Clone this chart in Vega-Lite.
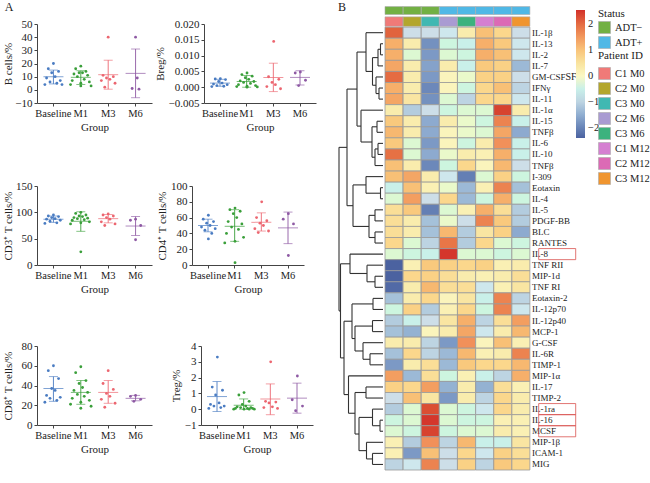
{
  "$schema": "https://vega.github.io/schema/vega-lite/v6.json",
  "background": "white",
  "padding": {"left": 2, "top": 0, "right": 0, "bottom": 0},
  "config": {
    "font": "Liberation Serif",
    "view": {"stroke": null},
    "axis": {"grid": false, "domainColor": "#444", "tickColor": "#444", "labelColor": "#222", "titleColor": "#222", "labelFontSize": 11, "titleFontSize": 11, "titleFontWeight": "normal", "tickSize": 3, "labelPadding": 2, "titlePadding": 3, "labelOverlap": false, "labelBound": false},
    "axisX": {"labelFontSize": 10.5},
    "legend": {"labelFontSize": 10.5, "titleFontSize": 11, "titleFontWeight": "normal", "labelColor": "#222", "titleColor": "#222", "padding": 0},
    "title": {"fontSize": 12, "fontWeight": "normal", "anchor": "start", "color": "#222"}
  },
  "datasets": {
    "cells": [
      {"p":"B","g":"Baseline","v":20,"k":8},{"p":"B","g":"Baseline","v":16,"k":5},{"p":"B","g":"Baseline","v":14,"k":11},{"p":"B","g":"Baseline","v":13,"k":7},{"p":"B","g":"Baseline","v":10,"k":9},{"p":"B","g":"Baseline","v":9,"k":4},{"p":"B","g":"Baseline","v":7,"k":12},{"p":"B","g":"Baseline","v":6,"k":6},{"p":"B","g":"Baseline","v":5,"k":10},{"p":"B","g":"Baseline","v":4,"k":3},{"p":"B","g":"Baseline","v":4,"k":13},
      {"p":"B","g":"M1","v":18,"k":8},{"p":"B","g":"M1","v":16,"k":5},{"p":"B","g":"M1","v":14,"k":11},{"p":"B","g":"M1","v":13,"k":7},{"p":"B","g":"M1","v":13,"k":9},{"p":"B","g":"M1","v":12,"k":4},{"p":"B","g":"M1","v":11,"k":12},{"p":"B","g":"M1","v":10,"k":6},{"p":"B","g":"M1","v":8,"k":10},{"p":"B","g":"M1","v":7,"k":3},{"p":"B","g":"M1","v":6,"k":13},{"p":"B","g":"M1","v":5,"k":8},{"p":"B","g":"M1","v":4,"k":2},{"p":"B","g":"M1","v":3,"k":14},{"p":"B","g":"M1","v":3,"k":8},
      {"p":"B","g":"M3","v":40,"k":8},{"p":"B","g":"M3","v":11,"k":5},{"p":"B","g":"M3","v":10,"k":11},{"p":"B","g":"M3","v":9,"k":7},{"p":"B","g":"M3","v":8,"k":9},{"p":"B","g":"M3","v":7,"k":4},{"p":"B","g":"M3","v":5,"k":12},{"p":"B","g":"M3","v":2,"k":6},
      {"p":"B","g":"M6","v":40,"k":8},{"p":"B","g":"M6","v":9,"k":9},{"p":"B","g":"M6","v":1,"k":6},{"p":"B","g":"M6","v":0.5,"k":10},
      {"p":"Breg","g":"Baseline","v":0.0027,"k":8},{"p":"Breg","g":"Baseline","v":0.0026,"k":5},{"p":"Breg","g":"Baseline","v":0.0024,"k":11},{"p":"Breg","g":"Baseline","v":0.0018,"k":7},{"p":"Breg","g":"Baseline","v":0.0013,"k":9},{"p":"Breg","g":"Baseline","v":0.001,"k":4},{"p":"Breg","g":"Baseline","v":0.0008,"k":12},{"p":"Breg","g":"Baseline","v":0.0005,"k":6},{"p":"Breg","g":"Baseline","v":0.0003,"k":10},{"p":"Breg","g":"Baseline","v":0.0002,"k":3},
      {"p":"Breg","g":"M1","v":0.0045,"k":8},{"p":"Breg","g":"M1","v":0.004,"k":5},{"p":"Breg","g":"M1","v":0.0035,"k":11},{"p":"Breg","g":"M1","v":0.003,"k":7},{"p":"Breg","g":"M1","v":0.0025,"k":9},{"p":"Breg","g":"M1","v":0.002,"k":4},{"p":"Breg","g":"M1","v":0.0018,"k":12},{"p":"Breg","g":"M1","v":0.0015,"k":6},{"p":"Breg","g":"M1","v":0.0012,"k":10},{"p":"Breg","g":"M1","v":0.0008,"k":3},{"p":"Breg","g":"M1","v":0.0005,"k":13},{"p":"Breg","g":"M1","v":0.0003,"k":8},{"p":"Breg","g":"M1","v":0.0002,"k":2},{"p":"Breg","g":"M1","v":0.0001,"k":14},{"p":"Breg","g":"M1","v":0,"k":8},
      {"p":"Breg","g":"M3","v":0.0145,"k":8},{"p":"Breg","g":"M3","v":0.0033,"k":5},{"p":"Breg","g":"M3","v":0.0025,"k":11},{"p":"Breg","g":"M3","v":0.0015,"k":7},{"p":"Breg","g":"M3","v":0.0008,"k":9},{"p":"Breg","g":"M3","v":0.0002,"k":4},{"p":"Breg","g":"M3","v":-0.0005,"k":12},
      {"p":"Breg","g":"M6","v":0.0048,"k":8},{"p":"Breg","g":"M6","v":0.0045,"k":5},{"p":"Breg","g":"M6","v":0.0022,"k":11},{"p":"Breg","g":"M6","v":0.0005,"k":7},
      {"p":"CD3","g":"Baseline","v":95,"k":8},{"p":"CD3","g":"Baseline","v":93,"k":5},{"p":"CD3","g":"Baseline","v":92,"k":11},{"p":"CD3","g":"Baseline","v":90,"k":7},{"p":"CD3","g":"Baseline","v":88,"k":9},{"p":"CD3","g":"Baseline","v":87,"k":4},{"p":"CD3","g":"Baseline","v":85,"k":12},{"p":"CD3","g":"Baseline","v":83,"k":6},{"p":"CD3","g":"Baseline","v":80,"k":10},{"p":"CD3","g":"Baseline","v":79,"k":3},
      {"p":"CD3","g":"M1","v":100,"k":8},{"p":"CD3","g":"M1","v":98,"k":5},{"p":"CD3","g":"M1","v":95,"k":11},{"p":"CD3","g":"M1","v":93,"k":7},{"p":"CD3","g":"M1","v":92,"k":9},{"p":"CD3","g":"M1","v":90,"k":4},{"p":"CD3","g":"M1","v":89,"k":12},{"p":"CD3","g":"M1","v":88,"k":6},{"p":"CD3","g":"M1","v":86,"k":10},{"p":"CD3","g":"M1","v":85,"k":3},{"p":"CD3","g":"M1","v":82,"k":13},{"p":"CD3","g":"M1","v":80,"k":8},{"p":"CD3","g":"M1","v":78,"k":2},{"p":"CD3","g":"M1","v":25,"k":8},
      {"p":"CD3","g":"M3","v":97,"k":8},{"p":"CD3","g":"M3","v":95,"k":5},{"p":"CD3","g":"M3","v":93,"k":11},{"p":"CD3","g":"M3","v":90,"k":7},{"p":"CD3","g":"M3","v":87,"k":9},{"p":"CD3","g":"M3","v":82,"k":4},{"p":"CD3","g":"M3","v":78,"k":12},{"p":"CD3","g":"M3","v":75,"k":6},
      {"p":"CD3","g":"M6","v":87,"k":8},{"p":"CD3","g":"M6","v":85,"k":5},{"p":"CD3","g":"M6","v":75,"k":11},{"p":"CD3","g":"M6","v":48,"k":8},
      {"p":"CD4","g":"Baseline","v":63,"k":8},{"p":"CD4","g":"Baseline","v":58,"k":5},{"p":"CD4","g":"Baseline","v":55,"k":11},{"p":"CD4","g":"Baseline","v":53,"k":7},{"p":"CD4","g":"Baseline","v":50,"k":9},{"p":"CD4","g":"Baseline","v":48,"k":4},{"p":"CD4","g":"Baseline","v":46,"k":12},{"p":"CD4","g":"Baseline","v":44,"k":6},{"p":"CD4","g":"Baseline","v":40,"k":10},{"p":"CD4","g":"Baseline","v":33,"k":8},
      {"p":"CD4","g":"M1","v":72,"k":8},{"p":"CD4","g":"M1","v":70,"k":5},{"p":"CD4","g":"M1","v":68,"k":11},{"p":"CD4","g":"M1","v":65,"k":7},{"p":"CD4","g":"M1","v":60,"k":9},{"p":"CD4","g":"M1","v":55,"k":4},{"p":"CD4","g":"M1","v":52,"k":12},{"p":"CD4","g":"M1","v":48,"k":6},{"p":"CD4","g":"M1","v":45,"k":10},{"p":"CD4","g":"M1","v":40,"k":3},{"p":"CD4","g":"M1","v":35,"k":13},{"p":"CD4","g":"M1","v":30,"k":8},{"p":"CD4","g":"M1","v":28,"k":2},{"p":"CD4","g":"M1","v":3,"k":8},
      {"p":"CD4","g":"M3","v":80,"k":8},{"p":"CD4","g":"M3","v":60,"k":5},{"p":"CD4","g":"M3","v":56,"k":11},{"p":"CD4","g":"M3","v":53,"k":7},{"p":"CD4","g":"M3","v":50,"k":9},{"p":"CD4","g":"M3","v":46,"k":4},{"p":"CD4","g":"M3","v":43,"k":12},{"p":"CD4","g":"M3","v":41,"k":6},
      {"p":"CD4","g":"M6","v":65,"k":8},{"p":"CD4","g":"M6","v":58,"k":5},{"p":"CD4","g":"M6","v":52,"k":11},{"p":"CD4","g":"M6","v":12,"k":8},
      {"p":"CD8","g":"Baseline","v":60,"k":8},{"p":"CD8","g":"Baseline","v":55,"k":5},{"p":"CD8","g":"Baseline","v":47,"k":11},{"p":"CD8","g":"Baseline","v":37,"k":7},{"p":"CD8","g":"Baseline","v":35,"k":9},{"p":"CD8","g":"Baseline","v":30,"k":4},{"p":"CD8","g":"Baseline","v":28,"k":12},{"p":"CD8","g":"Baseline","v":27,"k":6},{"p":"CD8","g":"Baseline","v":25,"k":10},{"p":"CD8","g":"Baseline","v":23,"k":3},
      {"p":"CD8","g":"M1","v":59,"k":8},{"p":"CD8","g":"M1","v":53,"k":5},{"p":"CD8","g":"M1","v":45,"k":11},{"p":"CD8","g":"M1","v":42,"k":7},{"p":"CD8","g":"M1","v":38,"k":9},{"p":"CD8","g":"M1","v":35,"k":4},{"p":"CD8","g":"M1","v":33,"k":12},{"p":"CD8","g":"M1","v":31,"k":6},{"p":"CD8","g":"M1","v":29,"k":10},{"p":"CD8","g":"M1","v":27,"k":3},{"p":"CD8","g":"M1","v":25,"k":13},{"p":"CD8","g":"M1","v":23,"k":8},{"p":"CD8","g":"M1","v":21,"k":2},{"p":"CD8","g":"M1","v":19,"k":14},{"p":"CD8","g":"M1","v":17,"k":8},
      {"p":"CD8","g":"M3","v":55,"k":8},{"p":"CD8","g":"M3","v":42,"k":5},{"p":"CD8","g":"M3","v":36,"k":11},{"p":"CD8","g":"M3","v":32,"k":7},{"p":"CD8","g":"M3","v":29,"k":9},{"p":"CD8","g":"M3","v":26,"k":4},{"p":"CD8","g":"M3","v":22,"k":12},{"p":"CD8","g":"M3","v":18,"k":6},
      {"p":"CD8","g":"M6","v":30,"k":8},{"p":"CD8","g":"M6","v":29,"k":5},{"p":"CD8","g":"M6","v":26,"k":11},{"p":"CD8","g":"M6","v":24,"k":7},
      {"p":"Treg","g":"Baseline","v":3.3,"k":8},{"p":"Treg","g":"Baseline","v":1.4,"k":5},{"p":"Treg","g":"Baseline","v":1.2,"k":11},{"p":"Treg","g":"Baseline","v":0.9,"k":7},{"p":"Treg","g":"Baseline","v":0.4,"k":9},{"p":"Treg","g":"Baseline","v":0.3,"k":4},{"p":"Treg","g":"Baseline","v":0.2,"k":12},{"p":"Treg","g":"Baseline","v":0.2,"k":6},{"p":"Treg","g":"Baseline","v":0.1,"k":10},{"p":"Treg","g":"Baseline","v":0.05,"k":3},
      {"p":"Treg","g":"M1","v":1.05,"k":8},{"p":"Treg","g":"M1","v":0.9,"k":5},{"p":"Treg","g":"M1","v":0.5,"k":11},{"p":"Treg","g":"M1","v":0.3,"k":7},{"p":"Treg","g":"M1","v":0.2,"k":9},{"p":"Treg","g":"M1","v":0.15,"k":4},{"p":"Treg","g":"M1","v":0.1,"k":12},{"p":"Treg","g":"M1","v":0.1,"k":6},{"p":"Treg","g":"M1","v":0.05,"k":10},{"p":"Treg","g":"M1","v":0.05,"k":3},{"p":"Treg","g":"M1","v":0.05,"k":13},{"p":"Treg","g":"M1","v":0,"k":8},{"p":"Treg","g":"M1","v":0,"k":2},{"p":"Treg","g":"M1","v":0,"k":14},{"p":"Treg","g":"M1","v":0,"k":11},
      {"p":"Treg","g":"M3","v":3.0,"k":8},{"p":"Treg","g":"M3","v":0.5,"k":5},{"p":"Treg","g":"M3","v":0.45,"k":11},{"p":"Treg","g":"M3","v":0.4,"k":7},{"p":"Treg","g":"M3","v":0.15,"k":9},{"p":"Treg","g":"M3","v":0.1,"k":4},{"p":"Treg","g":"M3","v":0.05,"k":12},
      {"p":"Treg","g":"M6","v":2.1,"k":8},{"p":"Treg","g":"M6","v":0.6,"k":5},{"p":"Treg","g":"M6","v":0.2,"k":11},{"p":"Treg","g":"M6","v":-0.1,"k":7}
    ],
    "stats": [
      {"p":"B","g":"Baseline","m":10,"lo":4.5,"hi":15},{"p":"B","g":"M1","m":9.5,"lo":4,"hi":14.5},{"p":"B","g":"M3","m":11.5,"lo":0.5,"hi":22.5},{"p":"B","g":"M6","m":12.5,"lo":-6,"hi":31},
      {"p":"Breg","g":"Baseline","m":0.0013,"lo":0.0003,"hi":0.0025},{"p":"Breg","g":"M1","m":0.0018,"lo":0,"hi":0.0037},{"p":"Breg","g":"M3","m":0.0031,"lo":-0.0014,"hi":0.0076},{"p":"Breg","g":"M6","m":0.0031,"lo":0.0007,"hi":0.0052},
      {"p":"CD3","g":"Baseline","m":87,"lo":81,"hi":93},{"p":"CD3","g":"M1","m":83,"lo":64,"hi":101},{"p":"CD3","g":"M3","m":88,"lo":80,"hi":96},{"p":"CD3","g":"M6","m":74,"lo":56,"hi":92},
      {"p":"CD4","g":"Baseline","m":50,"lo":42,"hi":58},{"p":"CD4","g":"M1","m":49,"lo":30,"hi":70},{"p":"CD4","g":"M3","m":54,"lo":43,"hi":66},{"p":"CD4","g":"M6","m":47,"lo":27,"hi":67},
      {"p":"CD8","g":"Baseline","m":37,"lo":24,"hi":49},{"p":"CD8","g":"M1","m":33,"lo":21,"hi":45},{"p":"CD8","g":"M3","m":33,"lo":22,"hi":45},{"p":"CD8","g":"M6","m":27,"lo":24.5,"hi":30},
      {"p":"Treg","g":"Baseline","m":0.8,"lo":-0.15,"hi":1.75},{"p":"Treg","g":"M1","m":0.25,"lo":0,"hi":0.65},{"p":"Treg","g":"M3","m":0.65,"lo":-0.35,"hi":1.6},{"p":"Treg","g":"M6","m":0.7,"lo":-0.25,"hi":1.65}
    ],
    "tree": [
      {"h":2.5,"ha":0,"ya":2,"hb":0,"yb":3},
      {"h":5,"ha":2.5,"ya":2.5,"hb":0,"yb":4},
      {"h":4,"ha":0,"ya":6,"hb":0,"yb":7},
      {"h":7,"ha":0,"ya":5,"hb":4,"yb":6.5},
      {"h":10.5,"ha":5,"ya":3.25,"hb":7,"yb":5.75},
      {"h":17,"ha":0,"ya":1,"hb":10.5,"yb":4.5},
      {"h":6,"ha":0,"ya":9,"hb":0,"yb":10},
      {"h":5,"ha":0,"ya":11,"hb":0,"yb":12},
      {"h":8,"ha":5,"ya":11.5,"hb":0,"yb":13},
      {"h":11,"ha":6,"ya":9.5,"hb":8,"yb":12.25},
      {"h":22,"ha":0,"ya":8,"hb":11,"yb":10.875},
      {"h":26,"ha":17,"ya":2.75,"hb":22,"yb":9.4375},
      {"h":2.5,"ha":0,"ya":15,"hb":0,"yb":16},
      {"h":17,"ha":0,"ya":14,"hb":2.5,"yb":15.5},
      {"h":8,"ha":0,"ya":17,"hb":0,"yb":18},
      {"h":8,"ha":0,"ya":19,"hb":0,"yb":20},
      {"h":14,"ha":8,"ya":17.5,"hb":8,"yb":19.5},
      {"h":30,"ha":17,"ya":14.75,"hb":14,"yb":18.5},
      {"h":36,"ha":26,"ya":6.09375,"hb":30,"yb":16.625},
      {"h":8,"ha":0,"ya":23,"hb":0,"yb":24},
      {"h":16,"ha":0,"ya":22,"hb":8,"yb":23.5},
      {"h":33,"ha":0,"ya":21,"hb":16,"yb":22.75},
      {"h":10,"ha":0,"ya":25,"hb":0,"yb":26},
      {"h":10.5,"ha":0,"ya":27,"hb":0,"yb":28},
      {"h":13,"ha":0,"ya":30,"hb":0,"yb":31},
      {"h":20,"ha":0,"ya":29,"hb":13,"yb":30.5},
      {"h":28,"ha":10.5,"ya":27.5,"hb":20,"yb":29.75},
      {"h":31,"ha":10,"ya":25.5,"hb":28,"yb":28.625},
      {"h":17,"ha":0,"ya":33,"hb":0,"yb":34},
      {"h":3,"ha":0,"ya":36,"hb":0,"yb":37},
      {"h":10.5,"ha":0,"ya":35,"hb":3,"yb":36.5},
      {"h":10.5,"ha":0,"ya":39,"hb":0,"yb":40},
      {"h":16.5,"ha":0,"ya":38,"hb":10.5,"yb":39.5},
      {"h":24,"ha":10.5,"ya":35.75,"hb":16.5,"yb":38.75},
      {"h":28,"ha":17,"ya":33.5,"hb":24,"yb":37.25},
      {"h":34.5,"ha":0,"ya":32,"hb":28,"yb":35.375},
      {"h":39,"ha":31,"ya":27.0625,"hb":34.5,"yb":33.6875},
      {"h":42.5,"ha":33,"ya":21.875,"hb":39,"yb":30.375},
      {"h":44,"ha":36,"ya":11.359375,"hb":42.5,"yb":26.125}
    ],
    "annot": [
      {"c":1,"s":"ADT−","id":"C1 M0"},{"c":2,"s":"ADT−","id":"C2 M0"},{"c":3,"s":"ADT−","id":"C3 M0"},{"c":4,"s":"ADT+","id":"C2 M6"},
      {"c":5,"s":"ADT+","id":"C3 M6"},{"c":6,"s":"ADT+","id":"C1 M12"},{"c":7,"s":"ADT+","id":"C2 M12"},{"c":8,"s":"ADT+","id":"C3 M12"}
    ],
    "labels": [
      {"r":1,"name":"IL-1β","box":false},{"r":2,"name":"IL-13","box":false},{"r":3,"name":"IL-2","box":false},{"r":4,"name":"IL-7","box":false},
      {"r":5,"name":"GM-CSF","box":false},{"r":6,"name":"IFNγ","box":false},{"r":7,"name":"IL-11","box":false},{"r":8,"name":"IL-1α","box":false},
      {"r":9,"name":"IL-15","box":false},{"r":10,"name":"TNFβ","box":false},{"r":11,"name":"IL-6","box":false},{"r":12,"name":"IL-10","box":false},
      {"r":13,"name":"TNFβ","box":false},{"r":14,"name":"I-309","box":false},{"r":15,"name":"Eotaxin","box":false},{"r":16,"name":"IL-4","box":false},
      {"r":17,"name":"IL-5","box":false},{"r":18,"name":"PDGF-BB","box":false},{"r":19,"name":"BLC","box":false},{"r":20,"name":"RANTES","box":false},
      {"r":21,"name":"IL-8","box":true},{"r":22,"name":"TNF RII","box":false},{"r":23,"name":"MIP-1d","box":false},{"r":24,"name":"TNF RI","box":false},
      {"r":25,"name":"Eotaxin-2","box":false},{"r":26,"name":"IL-12p70","box":false},{"r":27,"name":"IL-12p40","box":false},{"r":28,"name":"MCP-1","box":false},
      {"r":29,"name":"G-CSF","box":false},{"r":30,"name":"IL-6R","box":false},{"r":31,"name":"TIMP-1","box":false},{"r":32,"name":"MIP-1α","box":false},
      {"r":33,"name":"IL-17","box":false},{"r":34,"name":"TIMP-2","box":false},{"r":35,"name":"IL-1ra","box":true},{"r":36,"name":"IL-16","box":true},
      {"r":37,"name":"MCSF","box":true},{"r":38,"name":"MIP-1β","box":false},{"r":39,"name":"ICAM-1","box":false},{"r":40,"name":"MIG","box":false}
    ],
    "heat": [
      {"r":1,"c":1,"z":2.1},{"r":1,"c":2,"z":-0.85},{"r":1,"c":3,"z":-0.85},{"r":1,"c":4,"z":-0.7},{"r":1,"c":5,"z":0.3},{"r":1,"c":6,"z":1.05},{"r":1,"c":7,"z":0.75},{"r":1,"c":8,"z":-0.85},
      {"r":2,"c":1,"z":1.25},{"r":2,"c":2,"z":0.3},{"r":2,"c":3,"z":-1.85},{"r":2,"c":4,"z":-0.35},{"r":2,"c":5,"z":-0.5},{"r":2,"c":6,"z":1.25},{"r":2,"c":7,"z":0.95},{"r":2,"c":8,"z":-0.7},
      {"r":3,"c":1,"z":1.25},{"r":3,"c":2,"z":-0.2},{"r":3,"c":3,"z":-1.75},{"r":3,"c":4,"z":-0.2},{"r":3,"c":5,"z":-0.35},{"r":3,"c":6,"z":1.25},{"r":3,"c":7,"z":1.05},{"r":3,"c":8,"z":-0.7},
      {"r":4,"c":1,"z":1.35},{"r":4,"c":2,"z":0.3},{"r":4,"c":3,"z":-1.65},{"r":4,"c":4,"z":0.3},{"r":4,"c":5,"z":-0.5},{"r":4,"c":6,"z":0.95},{"r":4,"c":7,"z":0.85},{"r":4,"c":8,"z":-1.35},
      {"r":5,"c":1,"z":2.0},{"r":5,"c":2,"z":0.3},{"r":5,"c":3,"z":-1.75},{"r":5,"c":4,"z":0.1},{"r":5,"c":5,"z":-0.1},{"r":5,"c":6,"z":0.85},{"r":5,"c":7,"z":0.85},{"r":5,"c":8,"z":-0.85},
      {"r":6,"c":1,"z":1.25},{"r":6,"c":2,"z":0.3},{"r":6,"c":3,"z":-1.95},{"r":6,"c":4,"z":0.1},{"r":6,"c":5,"z":-0.35},{"r":6,"c":6,"z":0.75},{"r":6,"c":7,"z":1.05},{"r":6,"c":8,"z":-1.0},
      {"r":7,"c":1,"z":1.35},{"r":7,"c":2,"z":0.45},{"r":7,"c":3,"z":-1.85},{"r":7,"c":4,"z":-0.2},{"r":7,"c":5,"z":-1.0},{"r":7,"c":6,"z":0.75},{"r":7,"c":7,"z":0.75},{"r":7,"c":8,"z":-0.7},
      {"r":8,"c":1,"z":0.3},{"r":8,"c":2,"z":-1.1},{"r":8,"c":3,"z":-0.85},{"r":8,"c":4,"z":-0.35},{"r":8,"c":5,"z":-0.2},{"r":8,"c":6,"z":-0.2},{"r":8,"c":7,"z":2.4},{"r":8,"c":8,"z":0.3},
      {"r":9,"c":1,"z":0.95},{"r":9,"c":2,"z":0.3},{"r":9,"c":3,"z":-1.55},{"r":9,"c":4,"z":0.3},{"r":9,"c":5,"z":-0.1},{"r":9,"c":6,"z":-0.35},{"r":9,"c":7,"z":1.75},{"r":9,"c":8,"z":-0.5},
      {"r":10,"c":1,"z":1.15},{"r":10,"c":2,"z":0.3},{"r":10,"c":3,"z":-1.55},{"r":10,"c":4,"z":0.1},{"r":10,"c":5,"z":-0.1},{"r":10,"c":6,"z":-0.2},{"r":10,"c":7,"z":1.35},{"r":10,"c":8,"z":-1.55},
      {"r":11,"c":1,"z":0.95},{"r":11,"c":2,"z":-0.2},{"r":11,"c":3,"z":-1.75},{"r":11,"c":4,"z":0.1},{"r":11,"c":5,"z":-0.35},{"r":11,"c":6,"z":0.3},{"r":11,"c":7,"z":1.6},{"r":11,"c":8,"z":-0.5},
      {"r":12,"c":1,"z":1.95},{"r":12,"c":2,"z":-0.2},{"r":12,"c":3,"z":-1.55},{"r":12,"c":4,"z":-0.1},{"r":12,"c":5,"z":0.3},{"r":12,"c":6,"z":0.2},{"r":12,"c":7,"z":1.25},{"r":12,"c":8,"z":-0.5},
      {"r":13,"c":1,"z":1.05},{"r":13,"c":2,"z":0.3},{"r":13,"c":3,"z":-1.95},{"r":13,"c":4,"z":-0.35},{"r":13,"c":5,"z":0.75},{"r":13,"c":6,"z":0.1},{"r":13,"c":7,"z":1.15},{"r":13,"c":8,"z":-0.85},
      {"r":14,"c":1,"z":1.05},{"r":14,"c":2,"z":1.35},{"r":14,"c":3,"z":0.3},{"r":14,"c":4,"z":-0.7},{"r":14,"c":5,"z":-2.05},{"r":14,"c":6,"z":-0.2},{"r":14,"c":7,"z":0.85},{"r":14,"c":8,"z":-0.35},
      {"r":15,"c":1,"z":-0.5},{"r":15,"c":2,"z":1.05},{"r":15,"c":3,"z":0.2},{"r":15,"c":4,"z":-0.1},{"r":15,"c":5,"z":-1.35},{"r":15,"c":6,"z":0.2},{"r":15,"c":7,"z":1.75},{"r":15,"c":8,"z":-1.25},
      {"r":16,"c":1,"z":-0.2},{"r":16,"c":2,"z":1.45},{"r":16,"c":3,"z":-0.85},{"r":16,"c":4,"z":0.75},{"r":16,"c":5,"z":-1.35},{"r":16,"c":6,"z":-0.35},{"r":16,"c":7,"z":1.25},{"r":16,"c":8,"z":-0.35},
      {"r":17,"c":1,"z":0.6},{"r":17,"c":2,"z":0.95},{"r":17,"c":3,"z":-2.05},{"r":17,"c":4,"z":-0.2},{"r":17,"c":5,"z":0.2},{"r":17,"c":6,"z":1.25},{"r":17,"c":7,"z":0.6},{"r":17,"c":8,"z":-1.1},
      {"r":18,"c":1,"z":0.6},{"r":18,"c":2,"z":0.3},{"r":18,"c":3,"z":-1.25},{"r":18,"c":4,"z":-0.1},{"r":18,"c":5,"z":-0.85},{"r":18,"c":6,"z":1.75},{"r":18,"c":7,"z":0.95},{"r":18,"c":8,"z":-1.1},
      {"r":19,"c":1,"z":0.6},{"r":19,"c":2,"z":0.3},{"r":19,"c":3,"z":-1.25},{"r":19,"c":4,"z":1.15},{"r":19,"c":5,"z":-1.1},{"r":19,"c":6,"z":0.45},{"r":19,"c":7,"z":0.85},{"r":19,"c":8,"z":-1.55},
      {"r":20,"c":1,"z":0.75},{"r":20,"c":2,"z":-0.2},{"r":20,"c":3,"z":-1.0},{"r":20,"c":4,"z":1.9},{"r":20,"c":5,"z":-1.1},{"r":20,"c":6,"z":0.75},{"r":20,"c":7,"z":-0.2},{"r":20,"c":8,"z":-0.35},
      {"r":21,"c":1,"z":-0.2},{"r":21,"c":2,"z":-0.35},{"r":21,"c":3,"z":-0.5},{"r":21,"c":4,"z":2.5},{"r":21,"c":5,"z":-0.2},{"r":21,"c":6,"z":-0.2},{"r":21,"c":7,"z":-0.35},{"r":21,"c":8,"z":-0.2},
      {"r":22,"c":1,"z":-2.4},{"r":22,"c":2,"z":0.2},{"r":22,"c":3,"z":0.95},{"r":22,"c":4,"z":0.85},{"r":22,"c":5,"z":0.75},{"r":22,"c":6,"z":0.85},{"r":22,"c":7,"z":0.2},{"r":22,"c":8,"z":0.3},
      {"r":23,"c":1,"z":-2.4},{"r":23,"c":2,"z":0.75},{"r":23,"c":3,"z":0.85},{"r":23,"c":4,"z":0.6},{"r":23,"c":5,"z":0.3},{"r":23,"c":6,"z":0.2},{"r":23,"c":7,"z":0.3},{"r":23,"c":8,"z":0.6},
      {"r":24,"c":1,"z":-2.3},{"r":24,"c":2,"z":0.3},{"r":24,"c":3,"z":1.15},{"r":24,"c":4,"z":0.6},{"r":24,"c":5,"z":0.6},{"r":24,"c":6,"z":-0.7},{"r":24,"c":7,"z":0.2},{"r":24,"c":8,"z":0.45},
      {"r":25,"c":1,"z":-1.25},{"r":25,"c":2,"z":0.3},{"r":25,"c":3,"z":0.75},{"r":25,"c":4,"z":0.1},{"r":25,"c":5,"z":0.45},{"r":25,"c":6,"z":-0.5},{"r":25,"c":7,"z":1.75},{"r":25,"c":8,"z":-1.0},
      {"r":26,"c":1,"z":-0.35},{"r":26,"c":2,"z":0.85},{"r":26,"c":3,"z":-1.1},{"r":26,"c":4,"z":0.2},{"r":26,"c":5,"z":0.75},{"r":26,"c":6,"z":-0.35},{"r":26,"c":7,"z":1.75},{"r":26,"c":8,"z":-0.7},
      {"r":27,"c":1,"z":-1.1},{"r":27,"c":2,"z":-0.5},{"r":27,"c":3,"z":-0.85},{"r":27,"c":4,"z":0.45},{"r":27,"c":5,"z":1.25},{"r":27,"c":6,"z":-1.0},{"r":27,"c":7,"z":0.6},{"r":27,"c":8,"z":1.45},
      {"r":28,"c":1,"z":-1.25},{"r":28,"c":2,"z":-1.45},{"r":28,"c":3,"z":0.1},{"r":28,"c":4,"z":0.3},{"r":28,"c":5,"z":1.35},{"r":28,"c":6,"z":-0.7},{"r":28,"c":7,"z":0.3},{"r":28,"c":8,"z":1.15},
      {"r":29,"c":1,"z":0.3},{"r":29,"c":2,"z":0.3},{"r":29,"c":3,"z":-1.0},{"r":29,"c":4,"z":-1.75},{"r":29,"c":5,"z":1.6},{"r":29,"c":6,"z":0.1},{"r":29,"c":7,"z":1.05},{"r":29,"c":8,"z":0.2},
      {"r":30,"c":1,"z":-1.25},{"r":30,"c":2,"z":0.75},{"r":30,"c":3,"z":-1.0},{"r":30,"c":4,"z":-1.35},{"r":30,"c":5,"z":1.15},{"r":30,"c":6,"z":0.2},{"r":30,"c":7,"z":0.3},{"r":30,"c":8,"z":1.75},
      {"r":31,"c":1,"z":-1.75},{"r":31,"c":2,"z":0.3},{"r":31,"c":3,"z":0.6},{"r":31,"c":4,"z":-1.35},{"r":31,"c":5,"z":0.95},{"r":31,"c":6,"z":0.75},{"r":31,"c":7,"z":0.75},{"r":31,"c":8,"z":1.15},
      {"r":32,"c":1,"z":1.45},{"r":32,"c":2,"z":-1.35},{"r":32,"c":3,"z":0.6},{"r":32,"c":4,"z":-0.35},{"r":32,"c":5,"z":0.2},{"r":32,"c":6,"z":-0.5},{"r":32,"c":7,"z":-1.0},{"r":32,"c":8,"z":1.25},
      {"r":33,"c":1,"z":0.85},{"r":33,"c":2,"z":0.75},{"r":33,"c":3,"z":1.45},{"r":33,"c":4,"z":-1.45},{"r":33,"c":5,"z":0.3},{"r":33,"c":6,"z":-1.45},{"r":33,"c":7,"z":0.6},{"r":33,"c":8,"z":0.2},
      {"r":34,"c":1,"z":-0.85},{"r":34,"c":2,"z":1.05},{"r":34,"c":3,"z":0.45},{"r":34,"c":4,"z":-1.75},{"r":34,"c":5,"z":0.3},{"r":34,"c":6,"z":-1.0},{"r":34,"c":7,"z":0.75},{"r":34,"c":8,"z":0.3},
      {"r":35,"c":1,"z":-1.1},{"r":35,"c":2,"z":-0.2},{"r":35,"c":3,"z":2.3},{"r":35,"c":4,"z":-0.2},{"r":35,"c":5,"z":-0.35},{"r":35,"c":6,"z":-0.7},{"r":35,"c":7,"z":0.75},{"r":35,"c":8,"z":0.3},
      {"r":36,"c":1,"z":-0.35},{"r":36,"c":2,"z":-0.2},{"r":36,"c":3,"z":2.5},{"r":36,"c":4,"z":-0.2},{"r":36,"c":5,"z":-0.35},{"r":36,"c":6,"z":-0.35},{"r":36,"c":7,"z":0.2},{"r":36,"c":8,"z":0.2},
      {"r":37,"c":1,"z":-0.2},{"r":37,"c":2,"z":-0.35},{"r":37,"c":3,"z":2.4},{"r":37,"c":4,"z":-0.35},{"r":37,"c":5,"z":-0.2},{"r":37,"c":6,"z":-0.2},{"r":37,"c":7,"z":0.3},{"r":37,"c":8,"z":0.2},
      {"r":38,"c":1,"z":0.2},{"r":38,"c":2,"z":-1.1},{"r":38,"c":3,"z":1.6},{"r":38,"c":4,"z":-1.0},{"r":38,"c":5,"z":1.15},{"r":38,"c":6,"z":-0.5},{"r":38,"c":7,"z":-0.5},{"r":38,"c":8,"z":0.45},
      {"r":39,"c":1,"z":0.2},{"r":39,"c":2,"z":-1.75},{"r":39,"c":3,"z":1.05},{"r":39,"c":4,"z":-0.85},{"r":39,"c":5,"z":0.75},{"r":39,"c":6,"z":-0.7},{"r":39,"c":7,"z":0.85},{"r":39,"c":8,"z":0.6},
      {"r":40,"c":1,"z":-1.0},{"r":40,"c":2,"z":-0.7},{"r":40,"c":3,"z":1.75},{"r":40,"c":4,"z":-0.85},{"r":40,"c":5,"z":0.85},{"r":40,"c":6,"z":-1.0},{"r":40,"c":7,"z":0.95},{"r":40,"c":8,"z":0.75}
    ]
  },
  "hconcat": [
    {
      "spacing": 5,
      "vconcat": [
        {
          "width": 115, "height": 8,
          "data": {"values": [{"t": "A"}]},
          "mark": {"type": "text", "align": "left", "baseline": "top", "fontSize": 12, "color": "#222"},
          "encoding": {
            "x": {"datum": -0.28, "type": "quantitative", "scale": {"domain": [0, 1]}, "axis": null},
            "y": {"datum": 1.4, "type": "quantitative", "scale": {"domain": [0, 1]}, "axis": null},
            "text": {"field": "t"}
          }
        },
        {
          "spacing": 47,
          "vconcat": [
            {
              "spacing": 2,
              "hconcat": [
                {
                  "width": 115, "height": 79,
                  "encoding": {
                    "x": {"field": "g", "type": "nominal", "scale": {"domain": ["Baseline", "M1", "M3", "M6"], "paddingInner": 0, "paddingOuter": 0.1}, "axis": {"title": "Group", "labelAngle": 0}},
                    "color": {"field": "g", "type": "nominal", "scale": {"domain": ["Baseline", "M1", "M3", "M6"], "range": ["#4a7cc2", "#3a9f3a", "#ec6670", "#8e5aa4"]}, "legend": null}
                  },
                  "layer": [
                    {"data": {"name": "cells"}, "transform": [{"filter": "datum.p == 'B'"}], "mark": {"type": "circle", "size": 8, "opacity": 1},
                     "encoding": {"xOffset": {"field": "k", "type": "ordinal", "scale": {"domain": [1,2,3,4,5,6,7,8,9,10,11,12,13,14,15], "paddingOuter": 3}},
                       "y": {"field": "v", "type": "quantitative", "title": "B cells/%", "scale": {"domain": [-10, 50], "nice": false, "zero": false}, "axis": {"values": [-10, 0, 10, 20, 30, 40, 50], "minExtent": 21, "maxExtent": 21}}}},
                    {"data": {"name": "stats"}, "transform": [{"filter": "datum.p == 'B'"}],
                     "layer": [
                       {"mark": {"type": "rule", "strokeWidth": 0.9}, "encoding": {"y": {"field": "lo", "type": "quantitative", "title": "B cells/%", "axis": {"values": [-10, 0, 10, 20, 30, 40, 50], "minExtent": 21, "maxExtent": 21}}, "y2": {"field": "hi"}}},
                       {"mark": {"type": "tick", "size": 20, "thickness": 1}, "encoding": {"y": {"field": "m", "type": "quantitative", "title": "B cells/%", "axis": {"values": [-10, 0, 10, 20, 30, 40, 50], "minExtent": 21, "maxExtent": 21}}}},
                       {"mark": {"type": "tick", "size": 9, "thickness": 0.9}, "encoding": {"y": {"field": "lo", "type": "quantitative", "title": "B cells/%", "axis": {"values": [-10, 0, 10, 20, 30, 40, 50], "minExtent": 21, "maxExtent": 21}}}},
                       {"mark": {"type": "tick", "size": 9, "thickness": 0.9}, "encoding": {"y": {"field": "hi", "type": "quantitative", "title": "B cells/%", "axis": {"values": [-10, 0, 10, 20, 30, 40, 50], "minExtent": 21, "maxExtent": 21}}}}
                     ]}
                  ]
                },
                {
                  "width": 112, "height": 79,
                  "encoding": {
                    "x": {"field": "g", "type": "nominal", "scale": {"domain": ["Baseline", "M1", "M3", "M6"], "paddingInner": 0, "paddingOuter": 0.1}, "axis": {"title": "Group", "labelAngle": 0}},
                    "color": {"field": "g", "type": "nominal", "scale": {"domain": ["Baseline", "M1", "M3", "M6"], "range": ["#4a7cc2", "#3a9f3a", "#ec6670", "#8e5aa4"]}, "legend": null}
                  },
                  "layer": [
                    {"data": {"name": "cells"}, "transform": [{"filter": "datum.p == 'Breg'"}], "mark": {"type": "circle", "size": 8, "opacity": 1},
                     "encoding": {"xOffset": {"field": "k", "type": "ordinal", "scale": {"domain": [1,2,3,4,5,6,7,8,9,10,11,12,13,14,15], "paddingOuter": 3}},
                       "y": {"field": "v", "type": "quantitative", "title": "Breg/%", "scale": {"domain": [-0.005, 0.02], "nice": false, "zero": false}, "axis": {"values": [-0.005, 0, 0.005, 0.01, 0.015, 0.02], "format": ".3f"}}}},
                    {"data": {"name": "stats"}, "transform": [{"filter": "datum.p == 'Breg'"}],
                     "layer": [
                       {"mark": {"type": "rule", "strokeWidth": 0.9}, "encoding": {"y": {"field": "lo", "type": "quantitative", "title": "Breg/%", "axis": {"values": [-0.005, 0, 0.005, 0.01, 0.015, 0.02], "format": ".3f"}}, "y2": {"field": "hi"}}},
                       {"mark": {"type": "tick", "size": 20, "thickness": 1}, "encoding": {"y": {"field": "m", "type": "quantitative", "title": "Breg/%", "axis": {"values": [-0.005, 0, 0.005, 0.01, 0.015, 0.02], "format": ".3f"}}}},
                       {"mark": {"type": "tick", "size": 9, "thickness": 0.9}, "encoding": {"y": {"field": "lo", "type": "quantitative", "title": "Breg/%", "axis": {"values": [-0.005, 0, 0.005, 0.01, 0.015, 0.02], "format": ".3f"}}}},
                       {"mark": {"type": "tick", "size": 9, "thickness": 0.9}, "encoding": {"y": {"field": "hi", "type": "quantitative", "title": "Breg/%", "axis": {"values": [-0.005, 0, 0.005, 0.01, 0.015, 0.02], "format": ".3f"}}}}
                     ]}
                  ]
                }
              ]
            },
            {
              "spacing": 45,
              "vconcat": [
                {
                  "spacing": 4,
                  "hconcat": [
                    {
                      "width": 115, "height": 79,
                      "encoding": {
                        "x": {"field": "g", "type": "nominal", "scale": {"domain": ["Baseline", "M1", "M3", "M6"], "paddingInner": 0, "paddingOuter": 0.1}, "axis": {"title": "Group", "labelAngle": 0}},
                        "color": {"field": "g", "type": "nominal", "scale": {"domain": ["Baseline", "M1", "M3", "M6"], "range": ["#4a7cc2", "#3a9f3a", "#ec6670", "#8e5aa4"]}, "legend": null}
                      },
                      "layer": [
                        {"data": {"name": "cells"}, "transform": [{"filter": "datum.p == 'CD3'"}], "mark": {"type": "circle", "size": 8, "opacity": 1},
                         "encoding": {"xOffset": {"field": "k", "type": "ordinal", "scale": {"domain": [1,2,3,4,5,6,7,8,9,10,11,12,13,14,15], "paddingOuter": 3}},
                           "y": {"field": "v", "type": "quantitative", "title": "CD3⁺ T cells/%", "scale": {"domain": [0, 150], "nice": false, "zero": false}, "axis": {"values": [0, 50, 100, 150], "minExtent": 21, "maxExtent": 21}}}},
                        {"data": {"name": "stats"}, "transform": [{"filter": "datum.p == 'CD3'"}],
                         "layer": [
                           {"mark": {"type": "rule", "strokeWidth": 0.9}, "encoding": {"y": {"field": "lo", "type": "quantitative", "title": "CD3⁺ T cells/%", "axis": {"values": [0, 50, 100, 150], "minExtent": 21, "maxExtent": 21}}, "y2": {"field": "hi"}}},
                           {"mark": {"type": "tick", "size": 20, "thickness": 1}, "encoding": {"y": {"field": "m", "type": "quantitative", "title": "CD3⁺ T cells/%", "axis": {"values": [0, 50, 100, 150], "minExtent": 21, "maxExtent": 21}}}},
                           {"mark": {"type": "tick", "size": 9, "thickness": 0.9}, "encoding": {"y": {"field": "lo", "type": "quantitative", "title": "CD3⁺ T cells/%", "axis": {"values": [0, 50, 100, 150], "minExtent": 21, "maxExtent": 21}}}},
                           {"mark": {"type": "tick", "size": 9, "thickness": 0.9}, "encoding": {"y": {"field": "hi", "type": "quantitative", "title": "CD3⁺ T cells/%", "axis": {"values": [0, 50, 100, 150], "minExtent": 21, "maxExtent": 21}}}}
                         ]}
                      ]
                    },
                    {
                      "width": 112, "height": 79,
                      "encoding": {
                        "x": {"field": "g", "type": "nominal", "scale": {"domain": ["Baseline", "M1", "M3", "M6"], "paddingInner": 0, "paddingOuter": 0.1}, "axis": {"title": "Group", "labelAngle": 0}},
                        "color": {"field": "g", "type": "nominal", "scale": {"domain": ["Baseline", "M1", "M3", "M6"], "range": ["#4a7cc2", "#3a9f3a", "#ec6670", "#8e5aa4"]}, "legend": null}
                      },
                      "layer": [
                        {"data": {"name": "cells"}, "transform": [{"filter": "datum.p == 'CD4'"}], "mark": {"type": "circle", "size": 8, "opacity": 1},
                         "encoding": {"xOffset": {"field": "k", "type": "ordinal", "scale": {"domain": [1,2,3,4,5,6,7,8,9,10,11,12,13,14,15], "paddingOuter": 3}},
                           "y": {"field": "v", "type": "quantitative", "title": "CD4⁺ T cells/%", "scale": {"domain": [0, 100], "nice": false, "zero": false}, "axis": {"values": [0, 20, 40, 60, 80, 100]}}}},
                        {"data": {"name": "stats"}, "transform": [{"filter": "datum.p == 'CD4'"}],
                         "layer": [
                           {"mark": {"type": "rule", "strokeWidth": 0.9}, "encoding": {"y": {"field": "lo", "type": "quantitative", "title": "CD4⁺ T cells/%", "axis": {"values": [0, 20, 40, 60, 80, 100]}}, "y2": {"field": "hi"}}},
                           {"mark": {"type": "tick", "size": 20, "thickness": 1}, "encoding": {"y": {"field": "m", "type": "quantitative", "title": "CD4⁺ T cells/%", "axis": {"values": [0, 20, 40, 60, 80, 100]}}}},
                           {"mark": {"type": "tick", "size": 9, "thickness": 0.9}, "encoding": {"y": {"field": "lo", "type": "quantitative", "title": "CD4⁺ T cells/%", "axis": {"values": [0, 20, 40, 60, 80, 100]}}}},
                           {"mark": {"type": "tick", "size": 9, "thickness": 0.9}, "encoding": {"y": {"field": "hi", "type": "quantitative", "title": "CD4⁺ T cells/%", "axis": {"values": [0, 20, 40, 60, 80, 100]}}}}
                         ]}
                      ]
                    }
                  ]
                },
                {
                  "spacing": 18,
                  "hconcat": [
                    {
                      "width": 115, "height": 79,
                      "encoding": {
                        "x": {"field": "g", "type": "nominal", "scale": {"domain": ["Baseline", "M1", "M3", "M6"], "paddingInner": 0, "paddingOuter": 0.1}, "axis": {"title": "Group", "labelAngle": 0}},
                        "color": {"field": "g", "type": "nominal", "scale": {"domain": ["Baseline", "M1", "M3", "M6"], "range": ["#4a7cc2", "#3a9f3a", "#ec6670", "#8e5aa4"]}, "legend": null}
                      },
                      "layer": [
                        {"data": {"name": "cells"}, "transform": [{"filter": "datum.p == 'CD8'"}], "mark": {"type": "circle", "size": 8, "opacity": 1},
                         "encoding": {"xOffset": {"field": "k", "type": "ordinal", "scale": {"domain": [1,2,3,4,5,6,7,8,9,10,11,12,13,14,15], "paddingOuter": 3}},
                           "y": {"field": "v", "type": "quantitative", "title": "CD8⁺ T cells/%", "scale": {"domain": [0, 80], "nice": false, "zero": false}, "axis": {"values": [0, 20, 40, 60, 80], "minExtent": 21, "maxExtent": 21}}}},
                        {"data": {"name": "stats"}, "transform": [{"filter": "datum.p == 'CD8'"}],
                         "layer": [
                           {"mark": {"type": "rule", "strokeWidth": 0.9}, "encoding": {"y": {"field": "lo", "type": "quantitative", "title": "CD8⁺ T cells/%", "axis": {"values": [0, 20, 40, 60, 80], "minExtent": 21, "maxExtent": 21}}, "y2": {"field": "hi"}}},
                           {"mark": {"type": "tick", "size": 20, "thickness": 1}, "encoding": {"y": {"field": "m", "type": "quantitative", "title": "CD8⁺ T cells/%", "axis": {"values": [0, 20, 40, 60, 80], "minExtent": 21, "maxExtent": 21}}}},
                           {"mark": {"type": "tick", "size": 9, "thickness": 0.9}, "encoding": {"y": {"field": "lo", "type": "quantitative", "title": "CD8⁺ T cells/%", "axis": {"values": [0, 20, 40, 60, 80], "minExtent": 21, "maxExtent": 21}}}},
                           {"mark": {"type": "tick", "size": 9, "thickness": 0.9}, "encoding": {"y": {"field": "hi", "type": "quantitative", "title": "CD8⁺ T cells/%", "axis": {"values": [0, 20, 40, 60, 80], "minExtent": 21, "maxExtent": 21}}}}
                         ]}
                      ]
                    },
                    {
                      "width": 112, "height": 79,
                      "encoding": {
                        "x": {"field": "g", "type": "nominal", "scale": {"domain": ["Baseline", "M1", "M3", "M6"], "paddingInner": 0, "paddingOuter": 0.1}, "axis": {"title": "Group", "labelAngle": 0}},
                        "color": {"field": "g", "type": "nominal", "scale": {"domain": ["Baseline", "M1", "M3", "M6"], "range": ["#4a7cc2", "#3a9f3a", "#ec6670", "#8e5aa4"]}, "legend": null}
                      },
                      "layer": [
                        {"data": {"name": "cells"}, "transform": [{"filter": "datum.p == 'Treg'"}], "mark": {"type": "circle", "size": 8, "opacity": 1},
                         "encoding": {"xOffset": {"field": "k", "type": "ordinal", "scale": {"domain": [1,2,3,4,5,6,7,8,9,10,11,12,13,14,15], "paddingOuter": 3}},
                           "y": {"field": "v", "type": "quantitative", "title": "Treg/%", "scale": {"domain": [-1, 4], "nice": false, "zero": false}, "axis": {"values": [-1, 0, 1, 2, 3, 4]}}}},
                        {"data": {"name": "stats"}, "transform": [{"filter": "datum.p == 'Treg'"}],
                         "layer": [
                           {"mark": {"type": "rule", "strokeWidth": 0.9}, "encoding": {"y": {"field": "lo", "type": "quantitative", "title": "Treg/%", "axis": {"values": [-1, 0, 1, 2, 3, 4]}}, "y2": {"field": "hi"}}},
                           {"mark": {"type": "tick", "size": 20, "thickness": 1}, "encoding": {"y": {"field": "m", "type": "quantitative", "title": "Treg/%", "axis": {"values": [-1, 0, 1, 2, 3, 4]}}}},
                           {"mark": {"type": "tick", "size": 9, "thickness": 0.9}, "encoding": {"y": {"field": "lo", "type": "quantitative", "title": "Treg/%", "axis": {"values": [-1, 0, 1, 2, 3, 4]}}}},
                           {"mark": {"type": "tick", "size": 9, "thickness": 0.9}, "encoding": {"y": {"field": "hi", "type": "quantitative", "title": "Treg/%", "axis": {"values": [-1, 0, 1, 2, 3, 4]}}}}
                         ]}
                      ]
                    }
                  ]
                }
              ]
            }
          ]
        }
      ]
    },
    {
      "spacing": 0,
      "hconcat": [
        {
          "width": 45, "height": 465,
          "layer": [
            {"data": {"name": "tree"}, "mark": {"type": "rule", "color": "#333", "strokeWidth": 1.1},
             "encoding": {"x": {"field": "ha", "type": "quantitative", "scale": {"domain": [0, 45], "reverse": true, "nice": false, "zero": false}, "axis": null}, "x2": {"field": "h"},
               "y": {"field": "ya", "type": "quantitative", "scale": {"domain": [-1.5, 40.5], "reverse": true, "nice": false, "zero": false}, "axis": null}}},
            {"data": {"name": "tree"}, "mark": {"type": "rule", "color": "#333", "strokeWidth": 1.1},
             "encoding": {"x": {"field": "hb", "type": "quantitative", "axis": null}, "x2": {"field": "h"}, "y": {"field": "yb", "type": "quantitative", "axis": null}}},
            {"data": {"name": "tree"}, "mark": {"type": "rule", "color": "#333", "strokeWidth": 1.1},
             "encoding": {"x": {"field": "h", "type": "quantitative", "axis": null}, "y": {"field": "ya", "type": "quantitative", "axis": null}, "y2": {"field": "yb"}}},
            {"data": {"values": [{"t": "B"}]}, "mark": {"type": "text", "align": "left", "baseline": "top", "fontSize": 12, "color": "#222"},
             "encoding": {"x": {"datum": 45, "type": "quantitative"}, "y": {"datum": -1.78, "type": "quantitative"}, "text": {"field": "t"}}}
          ]
        },
        {
          "width": 181.25, "height": 465,
          "layer": [
            {"data": {"name": "heat"}, "mark": {"type": "rect", "stroke": "#999", "strokeWidth": 0.8},
             "encoding": {
               "x": {"field": "c", "type": "ordinal", "scale": {"domain": [1, 2, 3, 4, 5, 6, 7, 8, "L1", "L2"], "paddingInner": 0, "paddingOuter": 0}, "axis": null},
               "y": {"field": "r", "type": "ordinal", "scale": {"domain": ["S", "P", 1, 2, 3, 4, 5, 6, 7, 8, 9, 10, 11, 12, 13, 14, 15, 16, 17, 18, 19, 20, 21, 22, 23, 24, 25, 26, 27, 28, 29, 30, 31, 32, 33, 34, 35, 36, 37, 38, 39, 40], "paddingInner": 0, "paddingOuter": 0}, "axis": null},
               "color": {"field": "z", "type": "quantitative",
                 "scale": {"domain": [-2.4, -1.6, -0.8, 0, 0.8, 1.6, 2.55], "range": ["#4b62a0", "#89a6cd", "#d2e2ea", "#fbf8c4", "#fbd589", "#f1905a", "#d22f2a"]},
                 "legend": {"title": null, "orient": "none", "legendX": 191, "legendY": 5, "direction": "vertical", "gradientLength": 128, "gradientThickness": 9, "gradientStrokeWidth": 0, "values": [-2, -1, 0, 1, 2], "labelOffset": 3}}
             }},
            {"data": {"name": "annot"}, "mark": {"type": "rect", "stroke": "#aaa", "strokeWidth": 0.6, "height": {"band": 0.72}},
             "encoding": {
               "x": {"field": "c", "type": "ordinal"},
               "y": {"datum": "S", "type": "ordinal"},
               "color": {"field": "s", "type": "nominal", "scale": {"domain": ["ADT−", "ADT+"], "range": ["#72b043", "#4fb8e6"]},
                 "legend": {"title": "Status", "orient": "none", "legendX": 213, "legendY": 3, "symbolType": "square", "symbolSize": 144, "symbolStrokeColor": "#aaa", "symbolStrokeWidth": 0.6, "rowPadding": 0, "titlePadding": 2, "labelOffset": 4}}
             }},
            {"data": {"name": "annot"}, "mark": {"type": "rect", "stroke": "#aaa", "strokeWidth": 0.6, "height": {"band": 0.86}},
             "encoding": {
               "x": {"field": "c", "type": "ordinal"},
               "y": {"datum": "P", "type": "ordinal"},
               "color": {"field": "id", "type": "nominal", "scale": {"domain": ["C1 M0", "C2 M0", "C3 M0", "C2 M6", "C3 M6", "C1 M12", "C2 M12", "C3 M12"], "range": ["#f07a78", "#b3a62c", "#40b8b2", "#a99bd2", "#3cb27e", "#d57fd1", "#dc6ab5", "#f0952f"]},
                 "legend": {"title": "Patient ID", "orient": "none", "legendX": 213, "legendY": 45, "symbolType": "square", "symbolSize": 144, "symbolStrokeColor": "#aaa", "symbolStrokeWidth": 0.6, "rowPadding": 0, "titlePadding": 6, "labelOffset": 4}}
             }},
            {"data": {"name": "labels"}, "mark": {"type": "text", "align": "left", "dx": 2, "fontSize": 9, "color": "#222"},
             "encoding": {
               "x": {"datum": "L1", "type": "ordinal", "bandPosition": 0},
               "y": {"field": "r", "type": "ordinal"},
               "text": {"field": "name"}
             }},
            {"data": {"values": [{"t": "SF"}]}, "mark": {"type": "text", "align": "left", "fontSize": 10, "color": "#222"},
             "encoding": {
               "x": {"datum": "L2", "type": "ordinal", "bandPosition": 0.96},
               "y": {"datum": 5, "type": "ordinal"},
               "text": {"field": "t"}
             }},
            {"data": {"name": "labels"}, "transform": [{"filter": "datum.box"}], "mark": {"type": "rect", "filled": false, "stroke": "#d9534f", "strokeWidth": 0.8, "width": 37},
             "encoding": {
               "x": {"datum": "L2", "type": "ordinal", "bandPosition": 0},
               "y": {"field": "r", "type": "ordinal"}
             }}
          ],
          "resolve": {"scale": {"color": "independent"}}
        }
      ]
    }
  ],
  "spacing": 22
}
